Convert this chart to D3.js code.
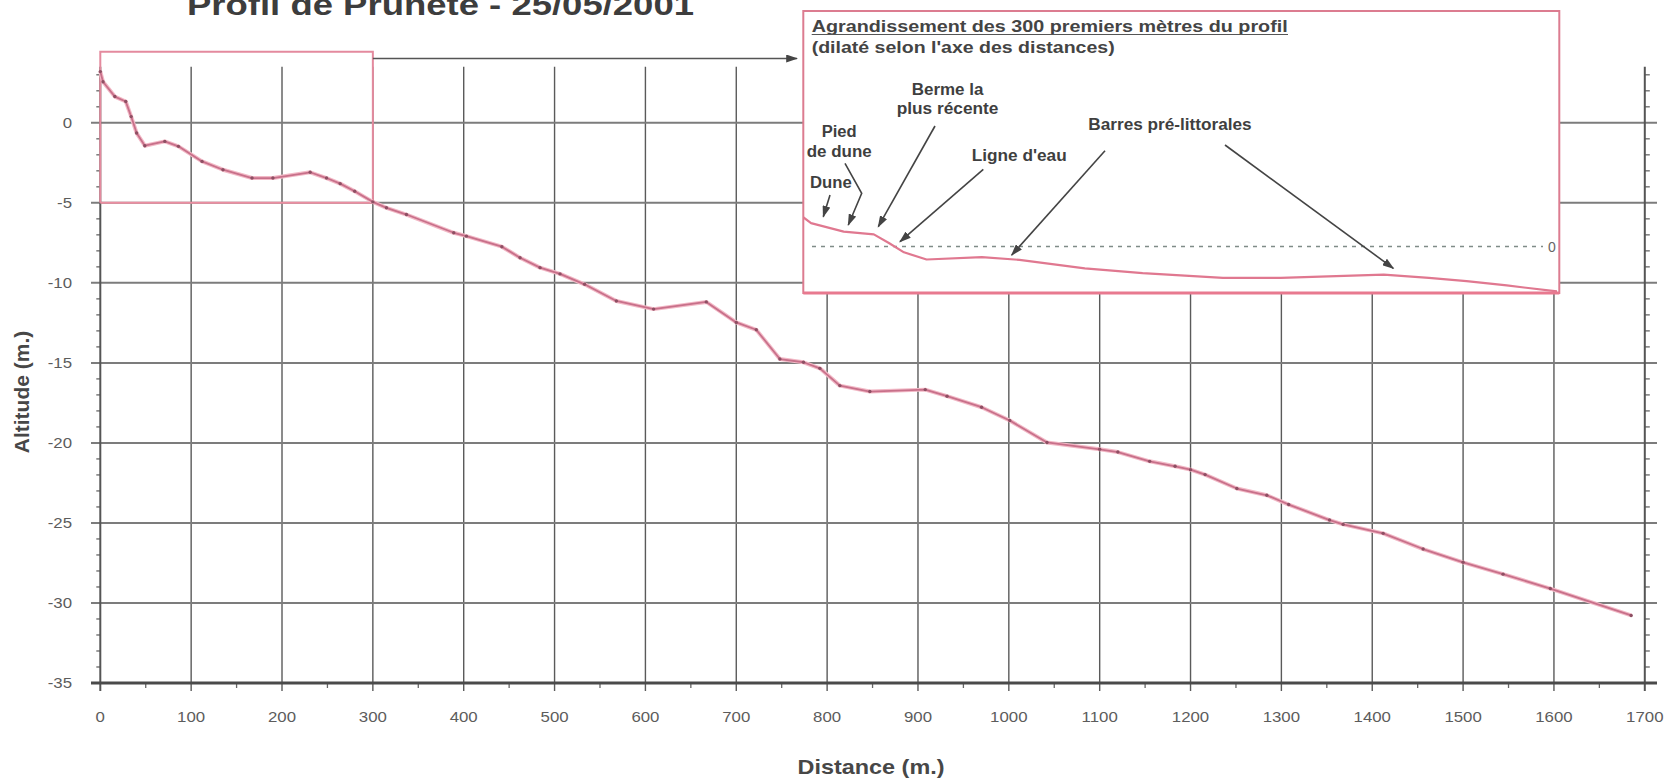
<!DOCTYPE html>
<html><head><meta charset="utf-8">
<script src="https://cdn.jsdelivr.net/npm/d3@7"></script>
<style>
body{margin:0;background:#fff;}
svg{display:block;font-family:"Liberation Sans",Arial,sans-serif;}
</style></head><body>
<svg id="c" width="1668" height="784"></svg>
<script>
// ---------- DATA ----------
const distance = [0, 3, 16, 28, 34, 40, 49, 71, 86, 112, 135, 167, 190, 231, 249, 264, 280, 300,
  315, 337, 389, 403, 442, 462, 484, 506, 533, 568, 609, 667, 700, 722, 748, 774, 792, 814, 847,
  908, 932, 970, 1001, 1042, 1100, 1120, 1155, 1183, 1200, 1216, 1251, 1284, 1308, 1353, 1368,
  1412, 1456, 1500, 1544, 1596, 1685];
const altitude = [3.2, 2.57, 1.64, 1.33, 0.39, -0.64, -1.43, -1.16, -1.47, -2.41, -2.93, -3.45, -3.45,
  -3.09, -3.45, -3.8, -4.28, -4.94, -5.31, -5.73, -6.87, -7.08, -7.74, -8.43, -9.05, -9.44, -10.09,
  -11.13, -11.64, -11.19, -12.47, -12.93, -14.76, -14.96, -15.34, -16.42, -16.79, -16.67, -17.08,
  -17.77, -18.6, -19.97, -20.4, -20.57, -21.15, -21.46, -21.67, -21.98, -22.85, -23.27, -23.85,
  -24.82, -25.09, -25.65, -26.63, -27.46, -28.2, -29.1, -30.78];
const xTicks = [0,100,200,300,400,500,600,700,800,900,1000,1100,1200,1300,1400,1500,1600,1700];
const yTicks = [0,-5,-10,-15,-20,-25,-30,-35];
const xMinorTicks = [50,150,250,350,450,550,650,750,850,950,1050,1150,1250,1350,1450,1550,1650];
const yMinorTicks = [3,2,1,-1,-2,-3,-4,-6,-7,-8,-9,-11,-12,-13,-14,-16,-17,-18,-19,-21,-22,-23,-24,
  -26,-27,-28,-29,-31,-32,-33,-34];
const zoomRange = [0, 300];         // distances shown in the inset
const zoomAltRange = [-5, 0];
const titleText = "Profil de Prunete - 25/05/2001";
const xLabel = "Distance (m.)";
const yLabel = "Altitude (m.)";
const insetTitle1 = "Agrandissement  des 300 premiers mètres du profil";
const insetTitle2 = "(dilaté selon l'axe des distances)";
const annotationTexts = ["Berme la", "plus récente", "Pied", "de dune", "Dune", "Ligne d'eau", "Barres pré-littorales"];

// ---------- LAYOUT ----------
const svg = d3.select("#c");
const x = d3.scaleLinear().domain([0,1700]).range([100.3,1644.8]);
const y = d3.scaleLinear().domain([-35,3.5]).range([683,66.8]);
const pts = distance.map((d,i)=>({d, a: altitude[i]}));

const defs = svg.append("defs");
defs.append("marker").attr("id","ah").attr("viewBox","0 0 10 10").attr("refX",9).attr("refY",5)
  .attr("markerUnits","userSpaceOnUse").attr("markerWidth",12).attr("markerHeight",8)
  .attr("orient","auto").attr("preserveAspectRatio","none")
  .append("path").attr("d","M0,0 L10,5 L0,10 z").attr("fill","#444");

function stretch(sel,k){ sel.each(function(){ const L=this.getComputedTextLength();
  this.setAttribute("textLength", L*k); this.setAttribute("lengthAdjust","spacingAndGlyphs"); }); }
function fixW(sel,w){ sel.attr("textLength",w).attr("lengthAdjust","spacingAndGlyphs"); }

const gx0 = 91, gx1 = 1657;
// vertical gridlines
svg.append("g").selectAll("line").data(xTicks.filter(v=>v>0 && v<1700)).join("line")
  .attr("x1",d=>x(d)).attr("x2",d=>x(d)).attr("y1",y(3.5)).attr("y2",y(-35)+8)
  .attr("stroke","#5a5a5a").attr("stroke-width",1.4);
// horizontal gridlines
svg.append("g").selectAll("line").data(yTicks.filter(v=>v>-35)).join("line")
  .attr("x1",gx0).attr("x2",gx1).attr("y1",d=>y(d)).attr("y2",d=>y(d))
  .attr("stroke","#7c7c7c").attr("stroke-width",2);
// minor ticks
svg.append("g").selectAll("line").data(yMinorTicks).join("line")
  .attr("x1",x(0)-4).attr("x2",x(0)).attr("y1",d=>y(d)).attr("y2",d=>y(d))
  .attr("stroke","#666").attr("stroke-width",1.3);
svg.append("g").selectAll("line").data(yMinorTicks).join("line")
  .attr("x1",x(1700)).attr("x2",x(1700)+5).attr("y1",d=>y(d)).attr("y2",d=>y(d))
  .attr("stroke","#666").attr("stroke-width",1.3);
svg.append("g").selectAll("line").data(xMinorTicks).join("line")
  .attr("x1",d=>x(d)).attr("x2",d=>x(d)).attr("y1",y(-35)).attr("y2",y(-35)+5)
  .attr("stroke","#666").attr("stroke-width",1.3);
// axes
svg.append("line").attr("x1",x(0)).attr("x2",x(0)).attr("y1",y(3.5)).attr("y2",y(-35)+8)
  .attr("stroke","#555").attr("stroke-width",2);
svg.append("line").attr("x1",x(1700)).attr("x2",x(1700)).attr("y1",y(3.5)).attr("y2",y(-35)+8)
  .attr("stroke","#555").attr("stroke-width",2);
svg.append("line").attr("x1",gx0).attr("x2",gx1).attr("y1",y(-35)).attr("y2",y(-35))
  .attr("stroke","#4a4a4a").attr("stroke-width",3);

// tick labels
const xl = svg.append("g").selectAll("text").data(xTicks).join("text")
  .attr("x",d=>x(d)).attr("y",722).attr("text-anchor","middle")
  .attr("font-size",15).attr("fill","#5c5c5c").text(d=>String(d));
stretch(xl,1.12);
const yl = svg.append("g").selectAll("text").data(yTicks).join("text")
  .attr("x",72).attr("y",d=>y(d)+5).attr("text-anchor","end")
  .attr("font-size",15).attr("fill","#5c5c5c").text(d=>String(d));
stretch(yl,1.12);

// small pink box around first 300 m
const boxTop = 51.7;
svg.append("path")
  .attr("d",`M${x(zoomRange[0])},${y(zoomAltRange[0])} V${boxTop} H${x(zoomRange[1])} V${y(zoomAltRange[0])}`)
  .attr("fill","none").attr("stroke","#e48a9e").attr("stroke-width",2);
svg.append("line").attr("x1",x(zoomRange[0])).attr("x2",x(zoomRange[1]))
  .attr("y1",y(zoomAltRange[0])).attr("y2",y(zoomAltRange[0]))
  .attr("stroke","#ec8fa2").attr("stroke-width",2);

// main profile
const line = d3.line().x(p=>x(p.d)).y(p=>y(p.a));
svg.append("path").datum(pts).attr("d",line).attr("fill","none")
  .attr("stroke","#f2b9c6").attr("stroke-width",4).attr("stroke-linejoin","round");
svg.append("path").datum(pts).attr("d",line).attr("fill","none")
  .attr("stroke","#c8708a").attr("stroke-width",1.8).attr("stroke-linejoin","round");
svg.append("g").selectAll("circle").data(pts).join("circle")
  .attr("cx",p=>x(p.d)).attr("cy",p=>y(p.a)).attr("r",1.7).attr("fill","#8e4f63");

// connecting arrow
svg.append("line").attr("x1",x(300)).attr("x2",797).attr("y1",58.5).attr("y2",58.5)
  .attr("stroke","#555").attr("stroke-width",1.6).attr("marker-end","url(#ah)");

// title
const tt = svg.append("text").attr("x",187).attr("y",15).attr("font-size",30).attr("font-weight","bold")
  .attr("fill","#3d3d3d").text(titleText);
fixW(tt,507);

// axis titles
const xt = svg.append("text").attr("x",871).attr("y",774).attr("text-anchor","middle")
  .attr("font-size",21).attr("font-weight","bold").attr("fill","#474747").text(xLabel);
fixW(xt,147);
svg.append("text").attr("transform","translate(29,392) rotate(-90)").attr("text-anchor","middle")
  .attr("font-size",21).attr("font-weight","bold").attr("fill","#474747").text(yLabel);

// ---------- INSET ----------
const ix0 = 803.3, ix1 = 1559.3, iy0 = 11, iy1 = 293;
const xi = d3.scaleLinear().domain(zoomRange).range([803.5,1557]);
const yi = d3.scaleLinear().domain(zoomAltRange).range([292,246.5]);
const inset = svg.append("g");
inset.append("rect").attr("x",ix0).attr("y",iy0).attr("width",ix1-ix0).attr("height",iy1-iy0)
  .attr("fill","#fff").attr("stroke","#dc7c90").attr("stroke-width",2);
defs.append("clipPath").attr("id","ic").append("rect")
  .attr("x",ix0).attr("y",iy0).attr("width",ix1-ix0).attr("height",iy1-iy0);

// zero dotted line
inset.append("line").attr("x1",812).attr("x2",1543).attr("y1",yi(0)).attr("y2",yi(0))
  .attr("stroke","#7f8c88").attr("stroke-width",1.6).attr("stroke-dasharray","4 5");
inset.append("text").attr("x",1548).attr("y",yi(0)+5).attr("font-size",14).attr("fill","#666").text("0");

// inset profile
const lineI = d3.line().x(p=>xi(p.d)).y(p=>yi(p.a));
inset.append("path").datum(pts.filter(p=>p.d<=zoomRange[1])).attr("d",lineI)
  .attr("clip-path","url(#ic)").attr("fill","none")
  .attr("stroke","#e07890").attr("stroke-width",2.2).attr("stroke-linejoin","round");
inset.append("line").attr("x1",ix0).attr("x2",ix1).attr("y1",iy1).attr("y2",iy1)
  .attr("stroke","#e8798f").attr("stroke-width",3);

// inset titles
const t1 = inset.append("text").attr("x",811.7).attr("y",32).attr("font-size",17).attr("font-weight","bold")
  .attr("fill","#444").text(insetTitle1);
fixW(t1,476);
inset.append("line").attr("x1",811.7).attr("x2",1288).attr("y1",34.5).attr("y2",34.5)
  .attr("stroke","#555").attr("stroke-width",1.2);
const t2 = inset.append("text").attr("x",811.7).attr("y",53).attr("font-size",17).attr("font-weight","bold")
  .attr("fill","#444").text(insetTitle2);
fixW(t2,303);

// annotations: [x, baseline, width]
const annLayout = [[911.7,95,71.7],[896.7,113.5,101.7],[821.7,136.5,35],[806.7,156.5,65],[810,188,41.7],[971.7,160.5,95],[1088.3,130,163.3]];
annotationTexts.forEach((t,i)=>{
  const [ax,ay,aw] = annLayout[i];
  const s = inset.append("text").attr("x",ax).attr("y",ay).attr("font-size",16).attr("font-weight","bold")
    .attr("fill","#3f3f3f").text(t);
  fixW(s,aw);
});
const arrows = [
  [[830,195],[823.3,216.7]],
  [[845,163.3],[861.7,193.3],[848.3,225]],
  [[935,126],[878.3,226.7]],
  [[983.3,169.3],[900,241.7]],
  [[1105,150.7],[1011.7,255]],
  [[1225,145],[1393.3,268.3]]
];
arrows.forEach(a=>{
  inset.append("path").attr("d",d3.line()(a)).attr("fill","none").attr("stroke","#444")
    .attr("stroke-width",1.6).attr("marker-end","url(#ah)");
});
</script>
</body></html>
